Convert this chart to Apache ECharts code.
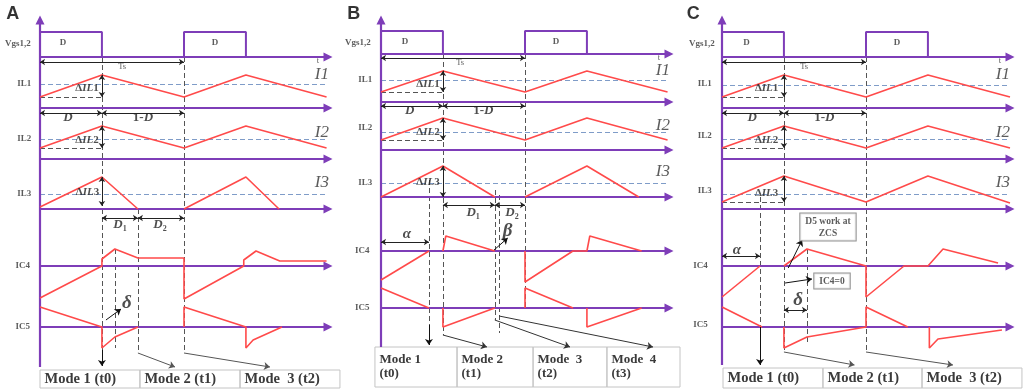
<!DOCTYPE html>
<html><head><meta charset="utf-8">
<script src="https://cdn.jsdelivr.net/npm/echarts@6/dist/echarts.min.js"></script>
<style>html,body{margin:0;padding:0;background:#fff}#c{width:1024px;height:390px}</style>
</head><body><div id="c"></div>
<script>
// ================= DATA (times in switching periods Ts, values relative to each trace axis) =================
const rowNames = ['Vgs1,2', 'IL1', 'IL2', 'IL3', 'IC4', 'IC5'];
const currentNames = ['I1', 'I2', 'I3'];
const rippleNames = ['{dl|Δ}{il|IL}{dl|1}', '{dl|Δ}{il|IL}{dl|2}', '{dl|Δ}{il|IL}{dl|3}'];

// Panel A
const A_vgs_t = [0, 0.43, 0.43, 1, 1, 1.43, 1.43];
const A_vgs_v = [25, 25, 0, 0, 25, 25, 0];
const A_il1_t = [0, 0.43, 1, 1.43, 1.99];
const A_il1_v = [11, 33, 11, 33, 11];
const A_il2_t = [0, 0.43, 1, 1.43, 1.99];
const A_il2_v = [11, 33, 11, 33, 11];
const A_il3_t = [0, 0.43, 0.68, null, 1, 1.43, 1.66];
const A_il3_v = [2, 32, 0, null, 0, 32, 0];
const A_ic4_t = [0, 0.43, 0.43, 0.52, 0.68, 1, 1, 1.415, 1.415, 1.5, 1.665, 1.99];
const A_ic4_v = [-32, 0, 7, 17, 8, 8, -33, 0, 6, 15, 5, 5];
const A_ic5_t = [0, 0.43, 0.43, 0.52, 0.68, null, 1, 1, 1.43, 1.43, 1.48, 1.68];
const A_ic5_v = [20, 0, -21, -10, 0, null, 0, 20, 0, -21, -13, 0];
const A_avg = [24, 20, 15];
const A_low = [11, 11];
const A_modes = ['Mode 1 (t0)', 'Mode 2 (t1)', 'Mode  3 (t2)'];
const A_modeEdges = [0, 0.694, 1.389, 2.083];

// Panel B
const B_vgs_t = [0, 0.43, 0.43, 1, 1, 1.43, 1.43];
const B_vgs_v = [23, 23, 0, 0, 23, 23, 0];
const B_il1_t = [0, 0.43, 1, 1.43, 1.99];
const B_il1_v = [10, 31, 10, 31, 10];
const B_il2_t = [0, 0.43, 1, 1.43, 1.99];
const B_il2_v = [10, 32, 10, 32, 10];
const B_il3_t = [0, 0.43, 0.79, null, 1, 1.43, 1.79];
const B_il3_v = [0, 31, 0, null, 0, 31, 0];
const B_ic4_t = [0, 0.333, null, 0.43, 0.45, 0.79, null, 1, 1, 1.333, 1.43, 1.45, 1.81];
const B_ic4_v = [-29, 0, null, 0, 15, 0, null, 0, -31, 0, 0, 15, 0];
const B_ic5_t = [0, 0.333, null, 0.43, 0.43, 0.79, null, 1, 1, 1.333, null, 1.43, 1.43, 1.81];
const B_ic5_v = [20, 0, null, 0, -19, 0, null, 0, 20, 0, null, 0, -19, 0];
const B_avg = [22, 18, 14];
const B_low = [10, 10];
const B_modes = ['Mode 1\n(t0)', 'Mode 2\n(t1)', 'Mode  3\n(t2)', 'Mode  4\n(t3)'];
const B_modeEdges = [-0.042, 0.528, 1.056, 1.569, 2.09];

// Panel C
const C_vgs_t = [0, 0.43, 0.43, 1, 1, 1.43, 1.43];
const C_vgs_v = [25, 25, 0, 0, 25, 25, 0];
const C_il1_t = [0, 0.43, 1, 1.43, 2.0];
const C_il1_v = [11, 33, 11, 33, 11];
const C_il2_t = [0, 0.43, 1, 1.43, 2.0];
const C_il2_v = [11, 33, 11, 33, 11];
const C_il3_t = [0, 0.43, 1, 1.43, 2.0];
const C_il3_v = [7, 33, 7, 33, 6];
const C_ic4_t = [0, 0.264, null, 0.43, 0.59, 1, 1, 1.264, 1.43, 1.535, 1.917];
const C_ic4_v = [-31, 0, null, 0, 17, 0, -31, 0, 0, 17, 3];
const C_ic5_t = [0, 0.278, null, 0.43, 0.43, 0.59, 1, 1, 1.29, null, 1.44, 1.44, 1.5, 1.944];
const C_ic5_v = [20, 0, null, 0, -21, -10, 0, 20, 0, null, 0, -21, -12, -3];
const C_avg = [23, 20, 15];
const C_low = [11, 11, 7];
const C_modes = ['Mode 1 (t0)', 'Mode 2 (t1)', 'Mode  3 (t2)'];
const C_modeEdges = [0.007, 0.701, 1.389, 2.083];

// ================= LAYOUT & STYLE =================
const TS = 144;            // pixels per switching period
const SERIF = '"Liberation Serif","DejaVu Serif",serif';
const PURPLE = '#7e3db8', RED = '#ff4a4a', BLUE = '#7f9cc8', DASH = '#555555';

const panels = [
  { letter: 'A', left: 0, width: 340, x0: 40, base: [57, 108, 159, 209, 266, 327], vTop: 20, vBottom: 367,
    waves: [[A_vgs_t, A_vgs_v], [A_il1_t, A_il1_v], [A_il2_t, A_il2_v], [A_il3_t, A_il3_v], [A_ic4_t, A_ic4_v], [A_ic5_t, A_ic5_v]],
    avg: A_avg, low: A_low, modes: A_modes, modeEdges: A_modeEdges, modeY: [370, 388], modeFont: 14.5,
    rowLbl: [[-0.153, 44], [-0.11, 84], [-0.11, 139], [-0.11, 194], [-0.12, 266], [-0.12, 327]],
    curLbl: [[1.958, 75], [1.958, 133], [1.958, 183]],
    ripLbl: [[0.326, 88], [0.326, 140], [0.33, 192]],
    extra: [
      ['letter', 'A', -0.19, 14], ['small', 'D', 0.16, 43], ['small', 'D', 1.215, 43],
      ['tiny', 'Ts', 0.57, 67], ['tiny', 't', 1.93, 61],
      ['rich', '{di|D}', 0.194, 118], ['rich', '{dn|1-}{di|D}', 0.715, 118],
      ['rich', '{di|D}{sub|1}', 0.556, 225], ['rich', '{di|D}{sub|2}', 0.833, 225],
      ['greek', 'δ', 0.604, 303]
    ],
    vdash: [[0.43, 57, 350], [0.52, 249, 348], [0.68, 209, 353], [1, 57, 353]],
    arrows: [[0.43, 350, 0.43, 366, '#111'], [0.68, 353, 0.9375, 367, '#555'], [1, 353, 1.597, 367, '#555'], [0.458, 320, 0.5625, 309, '#111']],
    hdims: [[0, 1, 62], [0, 0.43, 113], [0.43, 1, 113], [0.43, 0.68, 218], [0.68, 1, 218]],
    vdims: [[0.43, 75, 97], [0.43, 126, 148], [0.43, 177, 206]]
  },
  { letter: 'B', left: 340, width: 340, x0: 381, base: [54, 102, 150, 197, 251, 308], vTop: 20, vBottom: 347,
    waves: [[B_vgs_t, B_vgs_v], [B_il1_t, B_il1_v], [B_il2_t, B_il2_v], [B_il3_t, B_il3_v], [B_ic4_t, B_ic4_v], [B_ic5_t, B_ic5_v]],
    avg: B_avg, low: B_low, modes: B_modes, modeEdges: B_modeEdges, modeY: [347, 387], modeFont: 13,
    rowLbl: [[-0.16, 43], [-0.11, 80], [-0.11, 128], [-0.11, 183], [-0.13, 251], [-0.13, 308]],
    curLbl: [[1.958, 71], [1.958, 126], [1.958, 172]],
    ripLbl: [[0.326, 84], [0.326, 132], [0.326, 182]],
    extra: [
      ['letter', 'B', -0.19, 14], ['small', 'D', 0.167, 42], ['small', 'D', 1.215, 42],
      ['tiny', 'Ts', 0.55, 63], ['tiny', 't', 1.93, 58],
      ['rich', '{di|D}', 0.2, 111], ['rich', '{dn|1-}{di|D}', 0.71, 111],
      ['rich', '{di|D}{sub|1}', 0.64, 213], ['rich', '{di|D}{sub|2}', 0.91, 213],
      ['greekS', 'α', 0.18, 234], ['greek', 'β', 0.88, 231]
    ],
    vdash: [[0.43, 54, 335], [0.333, 180, 325], [0.79, 190, 320], [0.82, 195, 333], [1, 54, 310]],
    arrows: [[0.333, 325, 0.333, 345, '#111'], [0.43, 335, 0.736, 347, '#333'], [0.79, 320, 1.3125, 347, '#333'], [0.82, 316, 1.889, 347, '#333'], [0.785, 250, 0.88, 238, '#111']],
    hdims: [[0, 1, 58], [0, 0.43, 106], [0.43, 1, 106], [0.43, 0.79, 205], [0.79, 1, 205], [0, 0.333, 242]],
    vdims: [[0.43, 71, 92], [0.43, 118, 140], [0.43, 166, 197]]
  },
  { letter: 'C', left: 680, width: 344, x0: 722, base: [57, 108, 159, 209, 266, 327], vTop: 20, vBottom: 365,
    waves: [[C_vgs_t, C_vgs_v], [C_il1_t, C_il1_v], [C_il2_t, C_il2_v], [C_il3_t, C_il3_v], [C_ic4_t, C_ic4_v], [C_ic5_t, C_ic5_v]],
    avg: C_avg, low: C_low, modes: C_modes, modeEdges: C_modeEdges, modeY: [368, 388], modeFont: 14.5,
    rowLbl: [[-0.14, 44], [-0.12, 84], [-0.12, 136], [-0.12, 191], [-0.15, 266], [-0.15, 325]],
    curLbl: [[1.95, 75], [1.95, 133], [1.95, 183]],
    ripLbl: [[0.31, 88], [0.31, 140], [0.31, 193]],
    extra: [
      ['letter', 'C', -0.2, 14], ['small', 'D', 0.17, 43], ['small', 'D', 1.215, 43],
      ['tiny', 'Ts', 0.57, 67], ['tiny', 't', 1.93, 61],
      ['rich', '{di|D}', 0.21, 118], ['rich', '{dn|1-}{di|D}', 0.71, 118],
      ['greekS', 'α', 0.104, 250], ['greek', 'δ', 0.528, 300],
      ['box', 'D5 work at\nZCS', 0.736, 227], ['box', 'IC4=0', 0.764, 281]
    ],
    vdash: [[0.43, 57, 352], [0.264, 197, 327], [0.59, 249, 345], [1, 57, 352]],
    arrows: [[0.264, 327, 0.264, 365, '#111'], [0.43, 352, 0.92, 365, '#555'], [1, 352, 1.604, 365, '#555'], [0.46, 268, 0.556, 240, '#111'], [0.438, 283, 0.625, 279, '#111']],
    hdims: [[0, 1, 62], [0, 0.43, 113], [0.43, 1, 113], [0, 0.264, 256], [0.43, 0.59, 310]],
    vdims: [[0.43, 75, 97], [0.43, 126, 148], [0.43, 176, 202]]
  }
];

const STY = {
  letter: { fontFamily: '"Liberation Sans",Arial,sans-serif', fontWeight: 'bold', fontSize: 18, color: '#000' },
  small: { fontFamily: SERIF, fontWeight: 'bold', fontSize: 9, color: '#333' },
  tiny: { fontFamily: SERIF, fontSize: 8.5, color: '#333' },
  big: { fontFamily: SERIF, fontStyle: 'italic', fontSize: 17, color: '#333' },
  greek: { fontFamily: SERIF, fontStyle: 'italic', fontWeight: 'bold', fontSize: 19, color: '#222' },
  greekS: { fontFamily: SERIF, fontStyle: 'italic', fontWeight: 'bold', fontSize: 15, color: '#222' },
  box: { fontFamily: SERIF, fontWeight: 'bold', fontSize: 9.5, color: '#333', lineHeight: 12,
         borderColor: '#777', borderWidth: 1, padding: [2, 5, 1, 5], backgroundColor: '#fff', align: 'center' },
  rich: {}
};
const RICH = {
  dl: { fontFamily: SERIF, fontSize: 11, fontWeight: 'bold', color: '#222' },
  il: { fontFamily: SERIF, fontSize: 11, fontStyle: 'italic', fontWeight: 'bold', color: '#222' },
  di: { fontFamily: SERIF, fontSize: 13, fontStyle: 'italic', fontWeight: 'bold', color: '#222' },
  dn: { fontFamily: SERIF, fontSize: 13, fontWeight: 'bold', color: '#222' },
  sub: { fontFamily: SERIF, fontSize: 8, fontWeight: 'bold', color: '#222', padding: [7, 0, 0, 0] }
};

function segments(T, V) {
  const out = []; let cur = [];
  T.forEach((t, k) => {
    if (t === null) { if (cur.length) out.push(cur); cur = []; }
    else cur.push([t, V[k]]);
  });
  if (cur.length) out.push(cur);
  return out;
}

const option = { animation: false, grid: [], xAxis: [], yAxis: [], series: [] };

panels.forEach((p, i) => {
  const tmin = -(p.x0 - p.left) / TS;
  option.grid.push({ left: p.left, top: 0, width: p.width, height: 390 });
  option.xAxis.push({ type: 'value', gridIndex: i, min: tmin, max: tmin + p.width / TS, show: false });
  option.yAxis.push({ type: 'value', gridIndex: i, min: 0, max: 390, inverse: true, show: false });
  const ax = { xAxisIndex: i, yAxisIndex: i };

  // waveforms
  p.waves.forEach(([T, V], r) => {
    segments(T, V).forEach(seg => option.series.push({
      type: 'line', ...ax, silent: true, symbol: 'none', z: r === 0 ? 3 : 4,
      data: seg.map(([t, v]) => [t, p.base[r] - v]),
      lineStyle: { color: r === 0 ? PURPLE : RED, width: r === 0 ? 2 : 1.6 }
    }));
  });

  // purple axes
  const axesData = [{ coords: [[0, p.vBottom], [0, p.vTop]] }];
  p.base.forEach(b => axesData.push({ coords: [[0, b], [2.0, b]] }));
  option.series.push({ type: 'lines', coordinateSystem: 'cartesian2d', ...ax, silent: true, z: 3,
    symbol: ['none', 'triangle'], symbolSize: [1, 9],
    lineStyle: { color: PURPLE, width: 2.2, opacity: 1, curveness: 0 }, data: axesData });

  // dashed lines: averages (blue) and ripple bottoms / verticals (dark)
  const blue = p.avg.map((a, k) => ({ coords: [[0, p.base[k + 1] - a], [2.0, p.base[k + 1] - a]] }));
  option.series.push({ type: 'lines', coordinateSystem: 'cartesian2d', ...ax, silent: true, z: 2,
    symbol: 'none', lineStyle: { color: BLUE, width: 1, type: [5, 3], opacity: 1 }, data: blue });
  const dark = p.low.map((a, k) => ({ coords: [[0, p.base[k + 1] - a], [0.43, p.base[k + 1] - a]] }))
    .concat(p.vdash.map(([t, y1, y2]) => ({ coords: [[t, y1], [t, y2]] })));
  option.series.push({ type: 'lines', coordinateSystem: 'cartesian2d', ...ax, silent: true, z: 2,
    symbol: 'none', lineStyle: { color: DASH, width: 1, type: [5, 3], opacity: 1 }, data: dark });

  // single arrows
  option.series.push({ type: 'lines', coordinateSystem: 'cartesian2d', ...ax, silent: true, z: 5,
    symbol: ['none', 'arrow'], symbolSize: 6, lineStyle: { color: '#111', width: 1, opacity: 1 },
    data: p.arrows.map(([t1, y1, t2, y2, c]) => ({ coords: [[t1, y1], [t2, y2]], lineStyle: { color: c } })) });

  // dimension arrows
  const dims = p.hdims.map(([t1, t2, y]) => ({ coords: [[t1, y], [t2, y]] }))
    .concat(p.vdims.map(([t, y1, y2]) => ({ coords: [[t, y1], [t, y2]] })));
  option.series.push({ type: 'lines', coordinateSystem: 'cartesian2d', ...ax, silent: true, z: 5,
    symbol: ['arrow', 'arrow'], symbolSize: 5, lineStyle: { color: '#222', width: 1, opacity: 1 }, data: dims });

  // texts
  const txt = [];
  rowNames.forEach((n, r) => txt.push({ name: n, value: p.rowLbl[r], label: STY.small }));
  currentNames.forEach((n, r) => txt.push({ name: n, value: p.curLbl[r], label: STY.big }));
  rippleNames.forEach((n, r) => txt.push({ name: n, value: p.ripLbl[r], label: STY.rich }));
  p.extra.forEach(([s, n, t, y]) => txt.push({ name: n, value: [t, y], label: STY[s] }));

  const modeData = p.modes.map((m, k) => [
    { name: m, coord: [p.modeEdges[k], p.modeY[0]] },
    { coord: [p.modeEdges[k + 1], p.modeY[1]] }
  ]);
  option.series.push({
    type: 'scatter', ...ax, silent: true, z: 6, symbolSize: 0,
    itemStyle: { color: 'rgba(0,0,0,0)' },
    label: { show: true, position: 'inside', formatter: q => q.name, rich: RICH },
    data: txt,
    markArea: {
      silent: true,
      itemStyle: { color: 'rgba(0,0,0,0)', borderColor: '#c4c4c4', borderWidth: 1 },
      label: { show: true, position: 'insideLeft', distance: 5, fontFamily: SERIF, fontWeight: 'bold',
               fontSize: p.modeFont, color: '#3a3a3a', lineHeight: 14 },
      data: modeData
    }
  });
});

const chart = echarts.init(document.getElementById('c'), null, { renderer: 'canvas' });
chart.setOption(option);
</script></body></html>
